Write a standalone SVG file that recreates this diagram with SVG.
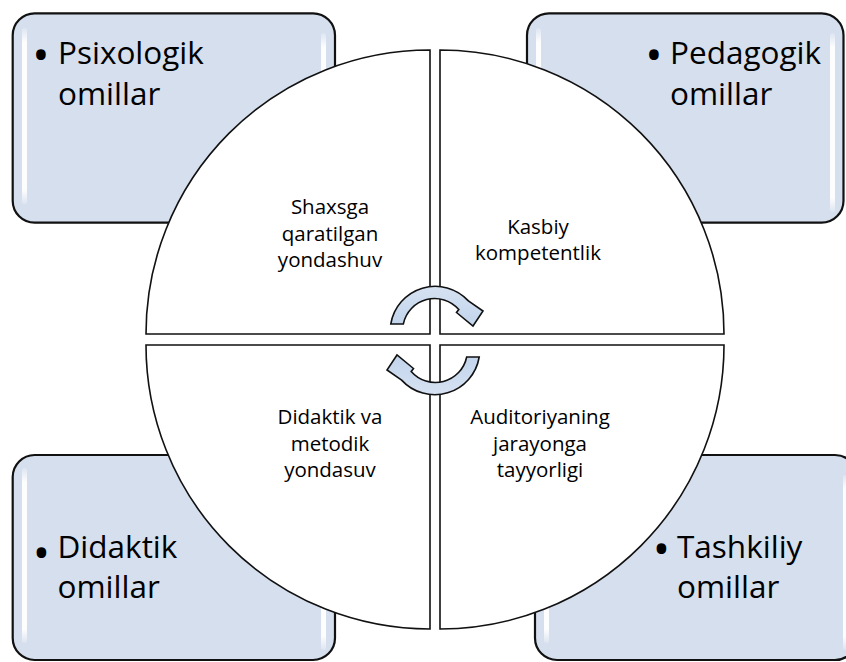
<svg xmlns="http://www.w3.org/2000/svg" width="846" height="662" viewBox="0 0 846 662">
  <defs>
    <linearGradient id="hl" x1="0" y1="0" x2="0" y2="1">
      <stop offset="0" stop-color="#ffffff" stop-opacity="0.2"/>
      <stop offset="0.08" stop-color="#ffffff" stop-opacity="0.95"/>
      <stop offset="0.92" stop-color="#ffffff" stop-opacity="0.95"/>
      <stop offset="1" stop-color="#ffffff" stop-opacity="0.2"/>
    </linearGradient>
    <linearGradient id="arrowFill" x1="0" y1="0" x2="0" y2="1">
      <stop offset="0" stop-color="#d6e2f2"/>
      <stop offset="1" stop-color="#c2d4ec"/>
    </linearGradient>
    <style>
      .box { fill: #d5dfee; stroke: #111; stroke-width: 2.2; }
      .hl { fill: url(#hl); }
      .quad { fill: #ffffff; stroke: #111; stroke-width: 1.6; }
      .big { font-family: "Open Sans", "Liberation Sans", sans-serif; font-size: 31.5px; fill: #000; }
      .bul { font-family: "Open Sans", "Liberation Sans", sans-serif; font-size: 46px; fill: #000; text-anchor: middle; }
      .small { font-family: "Open Sans", "Liberation Sans", sans-serif; font-size: 20.5px; fill: #000; text-anchor: middle; }
      .arrow { fill: url(#arrowFill); stroke: #111; stroke-width: 1.6; stroke-linejoin: miter; }
    </style>
  </defs>

  <g id="box-psixologik">
    <rect class="box" x="12.7" y="13.3" width="322.3" height="209.4" rx="22" ry="22"/>
    <rect class="hl" x="22" y="28" width="5" height="176" rx="2.5"/>
    <rect class="hl" x="321" y="33" width="5" height="179" rx="2.5"/>
    <text class="bul" x="41" y="71">•</text>
    <text class="big" x="58" y="64">Psixologik</text>
    <text class="big" x="58" y="105">omillar</text>
  </g>

  <g id="box-pedagogik">
    <rect class="box" x="527" y="13.3" width="316.5" height="209.4" rx="22" ry="22"/>
    <rect class="hl" x="536" y="28" width="5" height="176" rx="2.5"/>
    <rect class="hl" x="830" y="33" width="5" height="179" rx="2.5"/>
    <text class="bul" x="654" y="71">•</text>
    <text class="big" x="670" y="64">Pedagogik</text>
    <text class="big" x="670" y="105">omillar</text>
  </g>

  <g id="box-didaktik">
    <rect class="box" x="12.7" y="455" width="322.3" height="205" rx="22" ry="22"/>
    <rect class="hl" x="22" y="468" width="5" height="175" rx="2.5"/>
    <rect class="hl" x="321" y="475" width="5" height="175" rx="2.5"/>
    <text class="bul" x="41.5" y="569">•</text>
    <text class="big" x="57.5" y="558">Didaktik</text>
    <text class="big" x="57.5" y="598">omillar</text>
  </g>

  <g id="box-tashkiliy">
    <rect class="box" x="535" y="455" width="322" height="205" rx="22" ry="22"/>
    <rect class="hl" x="544" y="468" width="5" height="175" rx="2.5"/>
    <rect class="hl" x="843" y="475" width="5" height="175" rx="2.5"/>
    <text class="bul" x="661.5" y="565">•</text>
    <text class="big" x="677" y="558">Tashkiliy</text>
    <text class="big" x="677" y="598">omillar</text>
  </g>

  <g id="quad-shaxsga">
    <path class="quad" d="M430,334 L146,334 A284,284 0 0 1 430,50 Z"/>
    <text class="small" x="330" y="214">Shaxsga</text>
    <text class="small" x="330" y="240.5">qaratilgan</text>
    <text class="small" x="330" y="267">yondashuv</text>
  </g>

  <g id="quad-kasbiy">
    <path class="quad" d="M440,334 L440,50 A284,284 0 0 1 724,334 Z"/>
    <text class="small" x="538" y="234">Kasbiy</text>
    <text class="small" x="538" y="260">kompetentlik</text>
  </g>

  <g id="quad-auditoriya">
    <path class="quad" d="M440,345 L724,345 A284,284 0 0 1 440,629 Z"/>
    <text class="small" x="540" y="424">Auditoriyaning</text>
    <text class="small" x="540" y="450.5">jarayonga</text>
    <text class="small" x="540" y="477">tayyorligi</text>
  </g>

  <g id="quad-didaktik">
    <path class="quad" d="M430,345 L430,629 A284,284 0 0 1 146,345 Z"/>
    <text class="small" x="330" y="424">Didaktik va</text>
    <text class="small" x="330" y="450.5">metodik</text>
    <text class="small" x="330" y="477">yondasuv</text>
  </g>

  <g id="connectors">
    <path id="arrow-top" class="arrow" d="M390.8,324 A45,45 0 0 1 468.4,300.9 L483,311 L473,326 L456.5,312.5 L458.8,309.6 A32,32 0 0 0 403.3,324 Z"/>
    <path id="arrow-bottom" class="arrow" transform="rotate(180 435 340.5)" d="M390.8,324 A45,45 0 0 1 468.4,300.9 L483,311 L473,326 L456.5,312.5 L458.8,309.6 A32,32 0 0 0 403.3,324 Z"/>
  </g>
</svg>
